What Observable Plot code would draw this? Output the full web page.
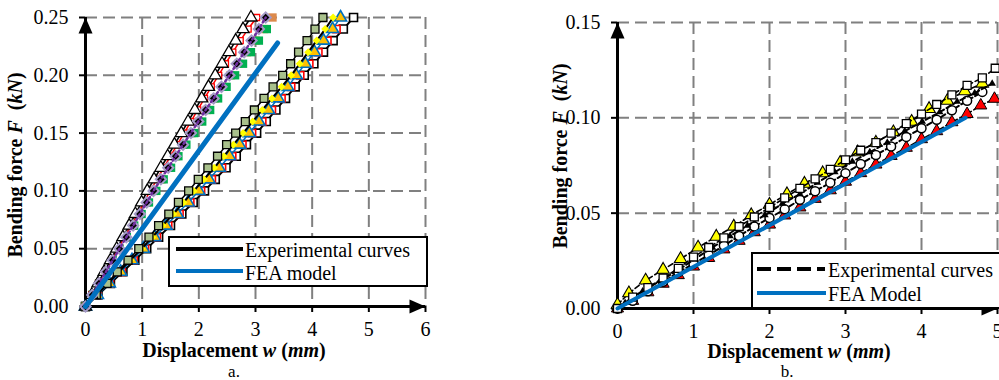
<!DOCTYPE html>
<html><head><meta charset="utf-8">
<script src="https://cdn.jsdelivr.net/npm/d3@7"></script>
<script src="https://cdn.jsdelivr.net/npm/@observablehq/plot@0.6"></script>
<style>
body{margin:0;background:#fff;}
#wrap{position:relative;width:999px;height:380px;overflow:hidden;font-family:"Liberation Serif","Times New Roman","DejaVu Serif",serif;color:#000;background:#fff;}
#wrap svg{position:absolute;top:0;}
.abs{position:absolute;white-space:nowrap;line-height:1;}
.c{transform:translate(-50%,-50%);}
.rot{transform:translate(-50%,-50%) rotate(-90deg);}
.lab{font-weight:bold;font-size:20px;}
.cap{font-size:17px;}
.leg{position:absolute;border:2px solid #000;background:#fff;box-sizing:border-box;}
.lt{font-size:20px;transform:translateY(-50%);}
</style></head><body><div id="wrap"></div>
<script>
// ---------- Panel a ----------
const xTicksA = [0, 1, 2, 3, 4, 5, 6];
const yTicksA = [0, 0.05, 0.10, 0.15, 0.20, 0.25];
const loadA = [0,0.01,0.02,0.03,0.04,0.05,0.06,0.07,0.08,0.09,0.10,0.11,0.12,0.13,0.14,0.15,0.16,0.17,0.18,0.19,0.20,0.21,0.22,0.23,0.24,0.25];
// steeper group
const a1Tri    = [0,0.11,0.22,0.33,0.44,0.55,0.66,0.77,0.88,0.99,1.09,1.21,1.33,1.45,1.57,1.69,1.81,1.93,2.05,2.17,2.29,2.41,2.53,2.65,2.78,2.92];
const a2Red    = [0,0.11,0.23,0.34,0.46,0.57,0.69,0.80,0.92,1.03,1.14,1.26,1.38,1.50,1.62,1.74,1.86,1.98,2.10,2.22,2.35,2.47,2.60,2.73,2.87,3.02];
const a3Green  = [0,0.12,0.24,0.36,0.48,0.60,0.73,0.86,0.99,1.12,1.25,1.38,1.51,1.64,1.78,1.92,2.06,2.20,2.34,2.49,2.64,2.78,2.92,3.06,3.20];
const a4Orange = [0,0.12,0.24,0.36,0.48,0.60,0.72,0.84,0.96,1.08,1.21,1.34,1.47,1.60,1.73,1.87,2.00,2.14,2.28,2.42,2.56,2.70,2.85,3.00,3.15,3.30];
const a5Diam   = [0,0.12,0.24,0.36,0.48,0.60,0.72,0.84,0.96,1.08,1.20,1.33,1.46,1.59,1.72,1.86,1.99,2.12,2.26,2.40,2.54,2.67,2.80,2.93,3.06,3.18];
// softer group
const b1Olive  = [0,0.19,0.38,0.56,0.75,0.94,1.12,1.29,1.47,1.64,1.82,1.99,2.16,2.33,2.49,2.65,2.82,2.98,3.15,3.31,3.48,3.62,3.76,3.91,4.05,4.19];
const b2Yellow = [0,0.20,0.40,0.59,0.79,0.99,1.18,1.36,1.55,1.73,1.91,2.09,2.27,2.44,2.61,2.78,2.95,3.12,3.29,3.46,3.63,3.78,3.93,4.08,4.23,4.37];
const b3Tri    = [0,0.21,0.42,0.62,0.82,1.02,1.22,1.42,1.62,1.81,2.00,2.18,2.36,2.54,2.72,2.89,3.06,3.23,3.40,3.57,3.72,3.88,4.04,4.20,4.36,4.50];
const b4RedW   = [0,0.21,0.43,0.64,0.85,1.05,1.26,1.46,1.66,1.85,2.04,2.23,2.41,2.59,2.77,2.94,3.12,3.29,3.46,3.63,3.79,3.95,4.11,4.27,4.43];
const b5Sq     = [0,0.22,0.44,0.66,0.87,1.08,1.29,1.50,1.70,1.90,2.10,2.29,2.48,2.66,2.84,3.02,3.19,3.36,3.53,3.70,3.86,4.03,4.20,4.37,4.55,4.73];
const feaAx = [0, 3.39];
const feaAy = [0, 0.228];

// ---------- Panel b ----------
const xTicksB = [0, 1, 2, 3, 4, 5];
const yTicksB = [0, 0.05, 0.10, 0.15];
const bYelX = [0,0.15,0.37,0.60,0.83,1.06,1.30,1.53,1.76,2.00,2.23,2.46,2.70,2.93,3.16,3.40,3.63,3.87,4.10,4.34,4.57,4.80];
const bYelF = [0.002,0.008,0.0147,0.0204,0.026,0.032,0.0377,0.043,0.049,0.0545,0.060,0.0655,0.071,0.0765,0.082,0.087,0.0925,0.098,0.1047,0.109,0.114,0.118];
const bBlkX = [0.10,0.33,0.56,0.79,1.02,1.25,1.48,1.71,1.94,2.17,2.40,2.63,2.86,3.09,3.32,3.55,3.78,4.01,4.24,4.47,4.70,4.93];
const bBlkF = [0.003,0.009,0.0145,0.020,0.026,0.032,0.038,0.0435,0.049,0.055,0.060,0.066,0.0715,0.077,0.082,0.087,0.093,0.098,0.103,0.1085,0.113,0.118];
const bSqX  = [0,0.2,0.4,0.6,0.8,1.0,1.2,1.4,1.6,1.8,2.0,2.2,2.4,2.6,2.8,3.0,3.2,3.4,3.6,3.8,4.0,4.2,4.4,4.6,4.8,4.97];
const bSqF  = [0,0.006,0.011,0.016,0.021,0.027,0.032,0.037,0.043,0.048,0.053,0.058,0.063,0.068,0.073,0.078,0.083,0.087,0.092,0.097,0.102,0.107,0.112,0.117,0.121,0.126];
const bCirX = [0,0.2,0.4,0.6,0.8,1.0,1.2,1.4,1.6,1.8,2.0,2.2,2.4,2.6,2.8,3.0,3.2,3.4,3.6,3.8,4.0,4.2,4.4,4.6,4.8];
const bCirF = [0,0.004,0.009,0.014,0.019,0.0235,0.028,0.033,0.038,0.043,0.0475,0.052,0.057,0.0615,0.066,0.071,0.0758,0.0805,0.085,0.090,0.0945,0.099,0.104,0.109,0.1136];
const bRedX = [0,0.2,0.4,0.6,0.8,1.0,1.2,1.4,1.6,1.8,2.0,2.2,2.4,2.6,2.8,3.0,3.2,3.4,3.6,3.8,4.0,4.2,4.4,4.6,4.78,4.96];
const bRedF = [0,0.004,0.0085,0.013,0.0175,0.022,0.0265,0.031,0.0355,0.040,0.044,0.0488,0.053,0.0575,0.062,0.0665,0.071,0.0755,0.080,0.0843,0.0888,0.093,0.0977,0.102,0.1065,0.110];
const feaBx = [0, 4.58];
const feaBy = [0, 0.100];

// helpers to build tables
const byLoad = (xs) => xs.map((x, i) => ({x, y: loadA[i]}));
const pairs = (xs, ys) => xs.map((x, i) => ({x, y: ys[i]}));

const arrowUp = {draw(ctx){ctx.moveTo(0,0);ctx.lineTo(-7,16);ctx.lineTo(7,16);ctx.closePath();}};
const arrowRight = {draw(ctx){ctx.moveTo(0,0);ctx.lineTo(-16,-7);ctx.lineTo(-16,7);ctx.closePath();}};

const gridStyle = {stroke:"#808080", strokeOpacity:1, strokeWidth:2, strokeDasharray:"12,6"};
const plotStyle = {fontFamily:'"Liberation Serif","Times New Roman","DejaVu Serif",serif', fontSize:"20px", color:"black", background:"transparent", overflow:"visible"};
const f2 = d => d.toFixed(2);

const left = Plot.plot({
  width: 470, height: 380,
  marginLeft: 85, marginRight: 45, marginTop: 17, marginBottom: 74,
  x: {domain: [0, 6]}, y: {domain: [0, 0.25]},
  style: plotStyle,
  marks: [
    Plot.gridX(xTicksA.slice(1), gridStyle),
    Plot.gridY(yTicksA.slice(1), gridStyle),
    Plot.axisX(xTicksA, {tickSize:6, tickPadding:9, strokeWidth:2, fontSize:20, label:null}),
    Plot.axisY(yTicksA, {tickSize:6, tickPadding:11, strokeWidth:2, fontSize:20, tickFormat:f2, label:null}),
    Plot.ruleY([0], {stroke:"black", strokeWidth:3}),
    Plot.ruleX([0], {stroke:"black", strokeWidth:3}),
    // softer group
    Plot.line(byLoad(b5Sq), {x:"x", y:"y", stroke:"black", strokeWidth:2}),
    Plot.dot(byLoad(b5Sq), {x:"x", y:"y", symbol:"square", r:4.5, fill:"white", stroke:"black", strokeWidth:1.6}),
    Plot.dot(byLoad(b4RedW), {x:"x", y:"y", symbol:"square", r:4, fill:"white", stroke:"red", strokeWidth:1.6}),
    Plot.line(byLoad(b3Tri), {x:"x", y:"y", stroke:"#0070c0", strokeWidth:1.5}),
    Plot.dot(byLoad(b3Tri), {x:"x", y:"y", symbol:"triangle", r:4.5, fill:"#ffc000", stroke:"#0070c0", strokeWidth:1.6}),
    Plot.line(byLoad(b2Yellow), {x:"x", y:"y", stroke:"black", strokeWidth:2}),
    Plot.dot(byLoad(b2Yellow), {x:"x", y:"y", symbol:"diamond2", r:3.6, fill:"#ffff00"}),
    Plot.line(byLoad(b1Olive), {x:"x", y:"y", stroke:"black", strokeWidth:1.5}),
    Plot.dot(byLoad(b1Olive), {x:"x", y:"y", symbol:"square", r:4.5, fill:"#a9c18c", stroke:"black", strokeWidth:1.3}),
    // steeper group
    Plot.dot(byLoad(a4Orange), {x:"x", y:"y", symbol:"square", r:4.7, fill:"#dc8a4c"}),
    Plot.dot(byLoad(a3Green), {x:"x", y:"y", symbol:"square", r:4.7, fill:"#00b050"}),
    Plot.line(byLoad(a2Red), {x:"x", y:"y", stroke:"red", strokeWidth:1.5}),
    Plot.dot(byLoad(a2Red), {x:"x", y:"y", symbol:"square", r:3.4, fill:"white", stroke:"red", strokeWidth:1.3}),
    Plot.line(byLoad(a1Tri), {x:"x", y:"y", stroke:"black", strokeWidth:1.6}),
    Plot.dot(byLoad(a1Tri), {x:"x", y:"y", symbol:"triangle", r:4.5, fill:"white", stroke:"black", strokeWidth:1.3}),
    Plot.dot(byLoad(a5Diam), {x:"x", y:"y", symbol:"diamond2", r:4.6, fill:"black", stroke:"#a59bc8", strokeWidth:2}),
    Plot.line(byLoad(a5Diam), {x:"x", y:"y", stroke:"#7030a0", strokeWidth:2.5, strokeDasharray:"2,3"}),
    // FEA
    Plot.line(pairs(feaAx, feaAy), {x:"x", y:"y", stroke:"#0070c0", strokeWidth:5, strokeLinecap:"round"}),
    Plot.dot([{x:6, y:0}], {x:"x", y:"y", symbol:arrowRight, r:5, fill:"black"}),
    Plot.dot([{x:0, y:0.25}], {x:"x", y:"y", symbol:arrowUp, r:5, fill:"black"})
  ]
});
left.style.left = "0px";

const dashLine = {stroke:"black", strokeWidth:1.6, strokeDasharray:"5,3"};
const right = Plot.plot({
  width: 529, height: 380,
  marginLeft: 147, marginRight: 2, marginTop: 22, marginBottom: 72,
  x: {domain: [0, 5]}, y: {domain: [0, 0.15]},
  style: plotStyle,
  marks: [
    Plot.gridX(xTicksB.slice(1), gridStyle),
    Plot.gridY(yTicksB.slice(1), gridStyle),
    Plot.axisX(xTicksB, {tickSize:6, tickPadding:9, strokeWidth:2, fontSize:20, label:null}),
    Plot.axisY(yTicksB, {tickSize:6, tickPadding:11, strokeWidth:2, fontSize:20, tickFormat:f2, label:null}),
    Plot.ruleY([0], {stroke:"black", strokeWidth:3}),
    Plot.ruleX([0], {stroke:"black", strokeWidth:3}),
    Plot.line(pairs(bRedX, bRedF), {x:"x", y:"y", ...dashLine}),
    Plot.dot(pairs(bRedX, bRedF), {x:"x", y:"y", symbol:"triangle", r:4.5, fill:"red", stroke:"black", strokeWidth:1}),
    Plot.line(pairs(bCirX, bCirF), {x:"x", y:"y", ...dashLine, strokeWidth:2}),
    Plot.dot(pairs(bCirX, bCirF), {x:"x", y:"y", symbol:"circle", r:4.5, fill:"white", stroke:"black", strokeWidth:1.5}),
    Plot.line(pairs(bYelX, bYelF), {x:"x", y:"y", ...dashLine}),
    Plot.dot(pairs(bYelX, bYelF), {x:"x", y:"y", symbol:"triangle", r:4.6, fill:"#ffff00", stroke:"black", strokeWidth:1.1}),
    Plot.line(pairs(bBlkX, bBlkF), {x:"x", y:"y", ...dashLine, strokeWidth:2}),
    Plot.dot(pairs(bBlkX, bBlkF), {x:"x", y:"y", symbol:"triangle", r:2.8, fill:"black"}),
    Plot.line(pairs(bSqX, bSqF), {x:"x", y:"y", ...dashLine}),
    Plot.dot(pairs(bSqX, bSqF), {x:"x", y:"y", symbol:"square", r:4.5, fill:"white", stroke:"black", strokeWidth:1.3}),
    Plot.line(pairs(feaBx, feaBy), {x:"x", y:"y", stroke:"#0070c0", strokeWidth:4}),
    Plot.dot([{x:5, y:0}], {x:"x", y:"y", symbol:arrowRight, r:5, fill:"black"}),
    Plot.dot([{x:0, y:0.15}], {x:"x", y:"y", symbol:arrowUp, r:5, fill:"black"})
  ]
});
right.style.left = "470px";

const wrap = document.getElementById("wrap");
wrap.appendChild(left);
wrap.appendChild(right);

const overlay = `
<div class="abs rot lab" style="left:15px;top:165px;">Bending force <i>F</i>&nbsp; (<i>kN</i>)</div>
<div class="abs c lab" style="left:234px;top:350px;">Displacement <i>w</i> (<i>mm</i>)</div>
<div class="abs c cap" style="left:234px;top:370.5px;">a.</div>
<div class="leg" style="left:168px;top:236px;width:260px;height:51px;"></div>
<svg style="position:absolute;left:0;top:0;" width="999" height="380">
  <line x1="176" x2="243" y1="249" y2="249" stroke="black" stroke-width="4"/>
  <line x1="176" x2="243" y1="271" y2="271" stroke="#0070c0" stroke-width="4"/>
</svg>
<div class="abs lt" style="left:245px;top:250px;">Experimental curves</div>
<div class="abs lt" style="left:245px;top:273px;">FEA model</div>

<div class="abs rot lab" style="left:560px;top:156px;">Bending force <i>F</i>&nbsp; (<i>kN</i>)</div>
<div class="abs c lab" style="left:799px;top:350.5px;">Displacement <i>w</i> (<i>mm</i>)</div>
<div class="abs c cap" style="left:787px;top:370.5px;">b.</div>
<div class="leg" style="left:751px;top:252px;width:262px;height:57px;"></div>
<svg style="position:absolute;left:0;top:0;" width="999" height="380">
  <line x1="757" x2="825" y1="269" y2="269" stroke="black" stroke-width="4" stroke-dasharray="14,6"/>
  <line x1="757" x2="826" y1="293" y2="293" stroke="#0070c0" stroke-width="4"/>
</svg>
<div class="abs lt" style="left:828px;top:270px;">Experimental curves</div>
<div class="abs lt" style="left:828px;top:294px;">FEA Model</div>
`;
wrap.insertAdjacentHTML("beforeend", overlay);
</script>
</body></html>
